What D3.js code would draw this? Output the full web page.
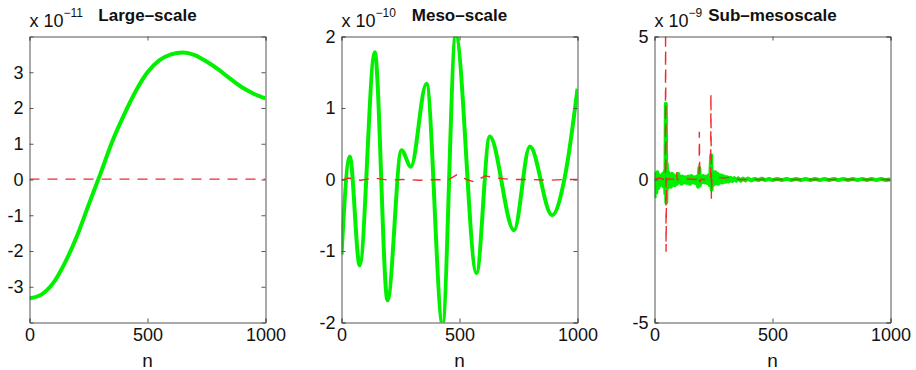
<!DOCTYPE html>
<html>
<head>
<meta charset="utf-8">
<script src="https://cdn.jsdelivr.net/npm/d3@7"></script>
<style>
  body { margin: 0; background: #fff; }
  svg { font-family: "Liberation Sans", Arial, Helvetica, sans-serif; }
  .tick text { font-size: 18px; fill: #111; }
  .tick line, .domain { stroke: #555; }
</style>
</head>
<body>
<div id="chart"></div>
<script>
// shared x ticks
var xTicks = [0, 500, 1000];

// large-scale panel (x 1e-11)
var nLarge = [0, 50, 100, 150, 200, 250, 300, 350, 400, 450,
              500, 550, 600, 650, 700, 750, 800, 850, 900, 950, 1000];
var largeGreen = [-3.32, -3.22, -2.90, -2.33, -1.60, -0.72, 0.15, 1.05, 1.80, 2.47,
                  3.00, 3.33, 3.50, 3.55, 3.48, 3.30, 3.08, 2.82, 2.58, 2.40, 2.27];
var nLargeRed = [0, 1000];
var largeRed = [0.01, 0.01];
var largeTicks = [-3, -2, -1, 0, 1, 2, 3];

// meso-scale panel (x 1e-10)
var nMeso = [0, 35, 77, 141, 195, 254, 294, 360, 428, 484,
             572, 628, 731, 798, 892, 950, 1000];
var mesoGreen = [-1.05, 0.32, -1.2, 1.78, -1.69, 0.41, 0.18, 1.34, -2.02, 2.02,
                 -1.31, 0.6, -0.71, 0.46, -0.5, 0.1, 1.27];
var nMesoRed = [0, 30, 80, 140, 200, 260, 330, 400, 450, 490,
                530, 560, 610, 660, 720, 800, 880, 950, 1000];
var mesoRed = [-0.01, 0.02, -0.01, 0.02, -0.01, 0, -0.01, 0, -0.01, 0.07,
               0, -0.03, 0.05, 0.02, 0, 0, -0.01, 0, 0];
var mesoTicks = [-2, -1, 0, 1, 2];

// sub-mesoscale panel (x 1e-9)
var nSub = [0, 4, 8, 12, 16, 20, 24, 28, 32, 36,
            40, 44, 46, 48, 50, 52, 55, 58, 62, 66,
            70, 74, 78, 82, 86, 90, 95, 100, 105, 110,
            115, 120, 126, 132, 138, 144, 150, 156, 162, 168,
            174, 180, 185, 188, 190, 192, 195, 200, 206, 212,
            218, 224, 230, 234, 237, 240, 242, 244, 247, 250,
            254, 258, 262, 266, 270, 275, 280, 285, 290, 296,
            302, 308, 315, 322, 330, 338, 346, 355, 365, 375,
            385, 395, 410, 425, 440, 455, 470, 485, 500, 520,
            540, 560, 580, 600, 620, 640, 660, 680, 700, 720,
            740, 760, 780, 800, 820, 840, 860, 880, 900, 920,
            940, 960, 980, 1000];
var subGreen = [-0.65, 0.2, -0.45, 0.25, -0.3, 0.15, -0.2, 0.1, -0.15, 0.2,
                -0.25, 0.3, -0.5, 2.65, -0.8, 0.55, -0.3, 0.25, -0.2, 0.15,
                -0.25, 0.2, -0.1, 0.15, -0.2, 0.1, -0.15, 0.2, -0.1, 0.1,
                -0.15, 0.1, -0.1, 0.08, -0.12, 0.1, -0.15, 0.12, -0.1, 0.08,
                -0.12, 0.1, -0.25, 0.1, 0.4, -0.2, 0.05, -0.1, 0.12, -0.1,
                0.1, -0.12, 0.15, -0.2, 0.25, 0.85, -0.35, 0.3, -0.2, 0.25,
                -0.15, 0.25, -0.12, 0.2, -0.15, 0.15, -0.1, 0.14, -0.1, 0.1,
                -0.08, 0.08, -0.07, 0.06, -0.05, 0.05, -0.04, 0.04, -0.04, 0.03,
                -0.03, 0.03, -0.03, 0.02, -0.02, 0.03, -0.02, 0.02, -0.02, 0.02,
                -0.02, 0.02, -0.02, 0.02, -0.02, 0.02, -0.02, 0.02, -0.02, 0.02,
                -0.02, 0.02, -0.02, 0.02, -0.02, 0.02, -0.02, 0.02, -0.02, 0.02,
                -0.02, 0.02, -0.02, 0];
var nSubRed = [0, 20, 40, 46, 47, 49, 51, 60, 90, 94,
               96, 100, 140, 185, 189, 190, 192, 195, 236, 238,
               239, 241, 243, 260, 290, 320, 360, 450, 600, 800, 1000];
var subRed = [0, 0.05, 0, 0, 5.5, -2.53, 0, 0.02, 0, 0.25,
              0, 0, 0.02, 0, 0, 1.67, -0.1, 0, 0, 0,
              3.0, -0.67, 0, 0.1, 0.05, 0.08, 0, 0, 0, 0, 0];
var subTicks = [-5, 0, 5];

var titles = ["Large–scale", "Meso–scale", "Sub–mesoscale"];
var exponents = ["−11", "−10", "−9"];

// layout of the three axes boxes
var W = 916, H = 370;
var lefts = [29.5, 341.5, 654.5];
var plotTop = 36.5, pw = 236, ph = 286;

var panels = [
  { n: nLarge, g: largeGreen, nr: nLargeRed, r: largeRed, dom: [-4, 4], ticks: largeTicks, curve: d3.curveMonotoneX },
  { n: nMeso, g: mesoGreen, nr: nMesoRed, r: mesoRed, dom: [-2, 2], ticks: mesoTicks, curve: d3.curveMonotoneX },
  { n: nSub, g: subGreen, nr: nSubRed, r: subRed, dom: [-5, 5], ticks: subTicks, curve: d3.curveLinear }
];

var svg = d3.select("#chart").append("svg")
    .attr("width", W)
    .attr("height", H);

panels.forEach(function(p, i) {
  var x = d3.scaleLinear().domain([0, 1000]).range([0, pw]);
  var y = d3.scaleLinear().domain(p.dom).range([ph, 0]);

  var g = svg.append("g")
      .attr("transform", "translate(" + lefts[i] + "," + plotTop + ")");

  g.append("clipPath").attr("id", "clip" + i)
    .append("rect").attr("width", pw).attr("height", ph);

  var plot = g.append("g").attr("clip-path", "url(#clip" + i + ")");

  var green = p.n.map(function(d, k) { return [d, p.g[k]]; });
  var red = p.nr.map(function(d, k) { return [d, p.r[k]]; });

  var line = d3.line()
      .x(function(d) { return x(d[0]); })
      .y(function(d) { return y(d[1]); });

  plot.append("path")
      .datum(green)
      .attr("fill", "none")
      .attr("stroke", "#00f000")
      .attr("stroke-width", 4)
      .attr("stroke-linejoin", "round")
      .attr("d", line.curve(p.curve));

  plot.append("path")
      .datum(red)
      .attr("fill", "none")
      .attr("stroke", "#f02a30")
      .attr("stroke-width", 1.4)
      .attr("stroke-dasharray", "10,8")
      .attr("d", line.curve(d3.curveLinear));

  // axes: ticks point inward on all four sides
  var axes = [
    g.append("g")
      .attr("transform", "translate(0," + ph + ")")
      .call(d3.axisBottom(x).tickValues(xTicks).tickSize(-4).tickPadding(6).tickFormat(d3.format("d"))),
    g.append("g")
      .call(d3.axisTop(x).tickValues(xTicks).tickSize(-4).tickFormat("")),
    g.append("g")
      .call(d3.axisLeft(y).tickValues(p.ticks).tickSize(-4).tickPadding(6).tickFormat(d3.format("d"))),
    g.append("g")
      .attr("transform", "translate(" + pw + ",0)")
      .call(d3.axisRight(y).tickValues(p.ticks).tickSize(-4).tickFormat(""))
  ];
  axes.forEach(function(a) {
    a.attr("font-family", null).attr("font-size", null);
  });

  g.selectAll(".tick text").text(function() {
    return this.textContent.replace("−", "-");
  });

  // scale factor label
  var sf = g.append("text")
      .attr("x", 0)
      .attr("y", 27 - plotTop)
      .attr("font-size", 18)
      .attr("fill", "#111")
      .text("x 10");
  sf.append("tspan")
      .attr("dy", -10)
      .attr("font-size", 12)
      .text(exponents[i]);

  g.append("text")
      .attr("x", pw / 2)
      .attr("y", 21 - plotTop)
      .attr("text-anchor", "middle")
      .attr("font-size", 17)
      .attr("font-weight", "bold")
      .attr("fill", "#111")
      .text(titles[i]);

  g.append("text")
      .attr("x", pw / 2)
      .attr("y", 367 - plotTop)
      .attr("text-anchor", "middle")
      .attr("font-size", 19)
      .attr("fill", "#111")
      .text("n");
});
</script>
</body>
</html>
